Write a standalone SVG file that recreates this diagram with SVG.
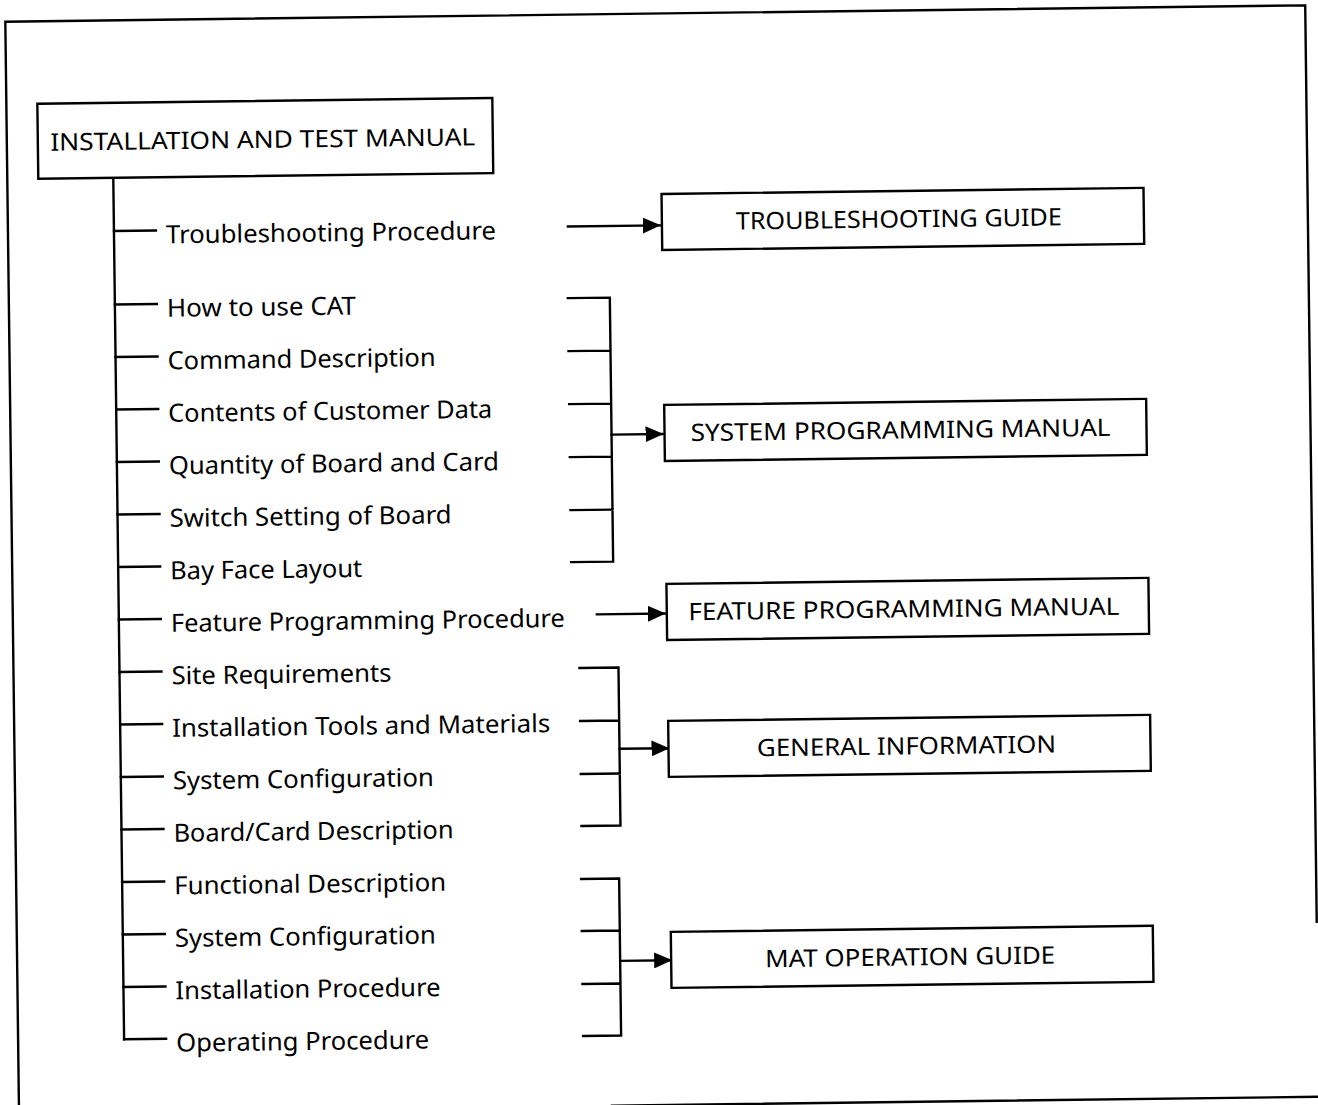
<svg xmlns="http://www.w3.org/2000/svg" width="1318" height="1105" viewBox="0 0 1318 1105">
<style>
.ln{fill:none;stroke:#000;stroke-width:2.4;stroke-linecap:square}
.bx{fill:#fff;stroke:#000;stroke-width:2.4}
.t{font-family:"Noto Sans","Open Sans","Liberation Sans",sans-serif;font-size:25px;fill:#000}
.bt{font-family:"Noto Sans","Open Sans","Liberation Sans",sans-serif;font-size:24px;fill:#000;text-anchor:middle}
</style>
<defs>
<marker id="ah" markerUnits="userSpaceOnUse" markerWidth="18" markerHeight="16" refX="17" refY="8" orient="auto">
<path d="M0,0 L18,8 L0,16 Z" fill="#000"/>
</marker>
</defs>
<rect width="1318" height="1105" fill="#fff"/>
<g transform="rotate(-0.72 660 550)">
<g id="frame">
<path class="ln" d="M12,1125 L12,13.5 L1312,13.5 L1312,930"/>
<path class="ln" d="M605,1105 L1330,1105"/>
</g>
<g id="connectors">
<path class="ln" d="M118,171 L118,1032.5"/>
<path class="ln" d="M118,224.2 H160 M118,297.7 H160 M118,350.2 H160 M118,402.7 H160 M118,455.2 H160 M118,507.7 H160 M118,560.2 H160 M118,612.7 H160 M118,665.2 H160 M118,717.7 H160 M118,770.2 H160 M118,822.7 H160 M118,875.2 H160 M118,927.7 H160 M118,980.2 H160 M118,1032.5 H160"/>
<path class="ln" d="M571,297 H613 V561 H571 M571,350 H613 M571,403 H613 M571,456 H613 M571,509 H613"/>
<path class="ln" d="M578,667 H617 V825 H578 M578,720 H617 M578,773 H617"/>
<path class="ln" d="M577,878 H615 V1035 H577 M577,930 H615 M577,983 H615"/>
<line class="ln" x1="572" y1="225.4" x2="664" y2="225.4" marker-end="url(#ah)"/>
<line class="ln" x1="613" y1="434" x2="664" y2="434" marker-end="url(#ah)"/>
<line class="ln" x1="596" y1="613.6" x2="664" y2="613.6" marker-end="url(#ah)"/>
<line class="ln" x1="617" y1="748.3" x2="666" y2="748.3" marker-end="url(#ah)"/>
<line class="ln" x1="615" y1="960.3" x2="666" y2="960.3" marker-end="url(#ah)"/>
</g>
<g id="n-installation-test-manual">
<rect class="bx" x="43" y="96" width="455" height="75"/>
<text class="bt" x="268" y="143" textLength="425" lengthAdjust="spacingAndGlyphs">INSTALLATION AND TEST MANUAL</text>
</g>
<g id="n-items">
<text class="t" x="170" y="237.2" textLength="330" lengthAdjust="spacingAndGlyphs">Troubleshooting Procedure</text>
<text class="t" x="170" y="310.7" textLength="189" lengthAdjust="spacingAndGlyphs">How to use CAT</text>
<text class="t" x="170" y="363.2" textLength="268" lengthAdjust="spacingAndGlyphs">Command Description</text>
<text class="t" x="170" y="415.7" textLength="324" lengthAdjust="spacingAndGlyphs">Contents of Customer Data</text>
<text class="t" x="170" y="468.2" textLength="330" lengthAdjust="spacingAndGlyphs">Quantity of Board and Card</text>
<text class="t" x="170" y="520.7" textLength="282" lengthAdjust="spacingAndGlyphs">Switch Setting of Board</text>
<text class="t" x="170" y="573.2" textLength="192" lengthAdjust="spacingAndGlyphs">Bay Face Layout</text>
<text class="t" x="170" y="625.7" textLength="394" lengthAdjust="spacingAndGlyphs">Feature Programming Procedure</text>
<text class="t" x="170" y="678.2" textLength="220" lengthAdjust="spacingAndGlyphs">Site Requirements</text>
<text class="t" x="170" y="730.7" textLength="378" lengthAdjust="spacingAndGlyphs">Installation Tools and Materials</text>
<text class="t" x="170" y="783.2" textLength="261" lengthAdjust="spacingAndGlyphs">System Configuration</text>
<text class="t" x="170" y="835.7" textLength="280" lengthAdjust="spacingAndGlyphs">Board/Card Description</text>
<text class="t" x="170" y="888.2" textLength="272" lengthAdjust="spacingAndGlyphs">Functional Description</text>
<text class="t" x="170" y="940.7" textLength="261" lengthAdjust="spacingAndGlyphs">System Configuration</text>
<text class="t" x="170" y="993.2" textLength="265" lengthAdjust="spacingAndGlyphs">Installation Procedure</text>
<text class="t" x="170" y="1045.5" textLength="253" lengthAdjust="spacingAndGlyphs">Operating Procedure</text>
</g>
<g id="n-troubleshooting-guide">
<rect class="bx" x="666" y="194" width="482" height="56"/>
<text class="bt" x="903" y="230.5" textLength="326" lengthAdjust="spacingAndGlyphs">TROUBLESHOOTING GUIDE</text>
</g>
<g id="n-system-programming-manual">
<rect class="bx" x="666" y="405" width="482" height="56"/>
<text class="bt" x="902" y="441.5" textLength="420" lengthAdjust="spacingAndGlyphs">SYSTEM PROGRAMMING MANUAL</text>
</g>
<g id="n-feature-programming-manual">
<rect class="bx" x="666" y="584" width="482" height="56"/>
<text class="bt" x="903" y="620.5" textLength="431" lengthAdjust="spacingAndGlyphs">FEATURE PROGRAMMING MANUAL</text>
</g>
<g id="n-general-information">
<rect class="bx" x="666" y="721" width="482" height="56"/>
<text class="bt" x="904" y="757.5" textLength="299" lengthAdjust="spacingAndGlyphs">GENERAL INFORMATION</text>
</g>
<g id="n-mat-operation-guide">
<rect class="bx" x="666" y="932" width="482" height="56"/>
<text class="bt" x="905" y="968.5" textLength="290" lengthAdjust="spacingAndGlyphs">MAT OPERATION GUIDE</text>
</g>
</g>
</svg>
